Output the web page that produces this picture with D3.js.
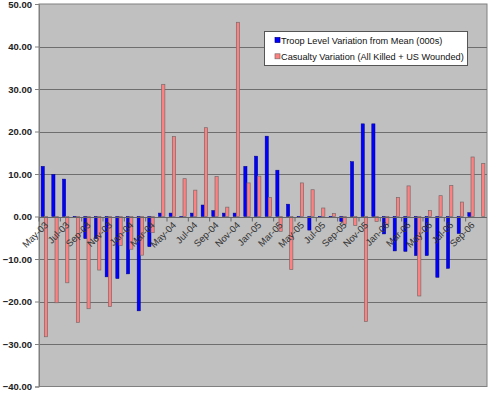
<!DOCTYPE html>
<html><head><meta charset="utf-8">
<script src="https://cdn.jsdelivr.net/npm/d3@7"></script>
<style>
html,body{margin:0;padding:0;background:#fff;}
svg text{font-family:"Liberation Sans",Arial,sans-serif;}
</style></head>
<body><svg id="c" width="500" height="393"></svg>
<script>
const months = ["May-03","Jun-03","Jul-03","Aug-03","Sep-03","Oct-03","Nov-03","Dec-03",
"Jan-04","Feb-04","Mar-04","Apr-04","May-04","Jun-04","Jul-04","Aug-04","Sep-04","Oct-04","Nov-04","Dec-04",
"Jan-05","Feb-05","Mar-05","Apr-05","May-05","Jun-05","Jul-05","Aug-05","Sep-05","Oct-05","Nov-05","Dec-05",
"Jan-06","Feb-06","Mar-06","Apr-06","May-06","Jun-06","Jul-06","Aug-06","Sep-06","Oct-06"];
const troop = [11.8,9.9,8.8,-0.2,-5.2,-5.2,-14.2,-14.6,-13.5,-22.2,-7.1,0.8,
0.8,-0.2,0.8,2.7,1.4,0.8,0.8,11.8,
14.2,18.9,10.9,2.9,-0.2,-3.2,-0.2,-0.2,-1.2,12.9,21.8,21.8,
-4.1,-8.1,-8.2,-9.2,-9.2,-14.3,-12.2,-4.0,0.9,0];
const casualty = [-28.3,-20.3,-15.6,-24.9,-21.7,-12.6,-21.2,-6.8,-7.7,-9.1,-3.8,31.1,
18.8,8.9,6.2,20.9,9.4,2.2,45.7,7.9,
9.5,4.5,-3.5,-12.5,7.9,6.3,2.0,0.7,-1.8,-2.1,-24.7,-1.2,
-1.8,4.5,7.2,-18.7,1.4,4.9,7.3,3.4,14.0,12.5];
const yTicks = [-40,-30,-20,-10,0,10,20,30,40,50];
const seriesNames = ["Troop Level Variation from Mean (000s)","Casualty Variation (All Killed + US Wounded)"];

const svg = d3.select("#c");
const L=39,R=487,T=4,B=386.5;
const x = d3.scaleBand().domain(months).range([L,R]).padding(0);
const y = d3.scaleLinear().domain([-40,50]).range([B,T]);
const bw = 3.2;

svg.append("rect").attr("x",L).attr("y",T).attr("width",R-L).attr("height",B-T)
  .attr("fill","#c0c0c0").attr("stroke","#808080").attr("stroke-width",1);

svg.append("g").selectAll("line").data(yTicks.filter(d=>d!==-40 && d!==50)).join("line")
  .attr("x1",L).attr("x2",R).attr("y1",d=>Math.round(y(d))+0.5).attr("y2",d=>Math.round(y(d))+0.5)
  .attr("stroke","#6e6e6e").attr("stroke-width",1.2);

// y axis
const ya = svg.append("g").attr("transform",`translate(${L},0)`)
  .call(d3.axisLeft(y).tickValues(yTicks).tickFormat(d3.format(".2f")).tickSize(4).tickPadding(3));
ya.select(".domain").attr("stroke","#808080");
ya.selectAll(".tick line").attr("stroke","#808080");
ya.selectAll("text").attr("font-size","9.5px").attr("font-weight","bold").attr("fill","#222")
  .attr("font-family","'Liberation Sans',Arial,sans-serif");

// bars
const g = svg.append("g");
g.selectAll("rect.t").data(months).join("rect").attr("class","t")
  .attr("x",(d)=>x(d)+x.bandwidth()/2-bw)
  .attr("y",(d,i)=>y(Math.max(0,troop[i])))
  .attr("width",bw)
  .attr("height",(d,i)=>Math.abs(y(troop[i])-y(0)))
  .attr("fill","#0000ff").attr("stroke","#000080").attr("stroke-width",0.5);
g.selectAll("rect.c").data(months).join("rect").attr("class","c")
  .attr("x",(d)=>x(d)+x.bandwidth()/2)
  .attr("y",(d,i)=>y(Math.max(0,casualty[i])))
  .attr("width",bw)
  .attr("height",(d,i)=>Math.abs(y(casualty[i])-y(0)))
  .attr("fill","#ff8080").attr("stroke","#7a6a6a").attr("stroke-width",0.7);

// x axis
const y0 = Math.round(y(0))+0.5;
svg.append("line").attr("x1",L).attr("x2",R).attr("y1",y0).attr("y2",y0).attr("stroke","#666").attr("stroke-width",1);
const labeled = months.filter((d,i)=>i%2===0);
svg.append("g").selectAll("line").data(labeled).join("line")
  .attr("x1",d=>x(d)).attr("x2",d=>x(d)).attr("y1",y0).attr("y2",y0+4).attr("stroke","#666");
svg.append("g").selectAll("text").data(labeled).join("text")
  .attr("transform",d=>`translate(${x(d)+x.bandwidth()/2+2},${y0+6}) rotate(-45)`)
  .attr("text-anchor","end").attr("dy","0.35em")
  .attr("font-size","9.5px").attr("fill","#333").text(d=>d);

// legend
const lg = svg.append("g").attr("transform","translate(264.5,31.5)");
lg.append("rect").attr("width",203).attr("height",34).attr("fill","#fff").attr("stroke","#555").attr("stroke-width",1);
const colors=[["#0000ff","#000080"],["#ff8080","#7a6a6a"]];
seriesNames.forEach((s,i)=>{
  const yy = 9+i*16.3;
  lg.append("rect").attr("x",10.5).attr("y",yy-3).attr("width",5).attr("height",5)
    .attr("fill",colors[i][0]).attr("stroke",colors[i][1]).attr("stroke-width",0.7);
  lg.append("text").attr("x",16.5).attr("y",yy).attr("dy","0.35em").attr("font-size","9.2px").attr("fill","#111").text(s);
});
</script></body></html>
